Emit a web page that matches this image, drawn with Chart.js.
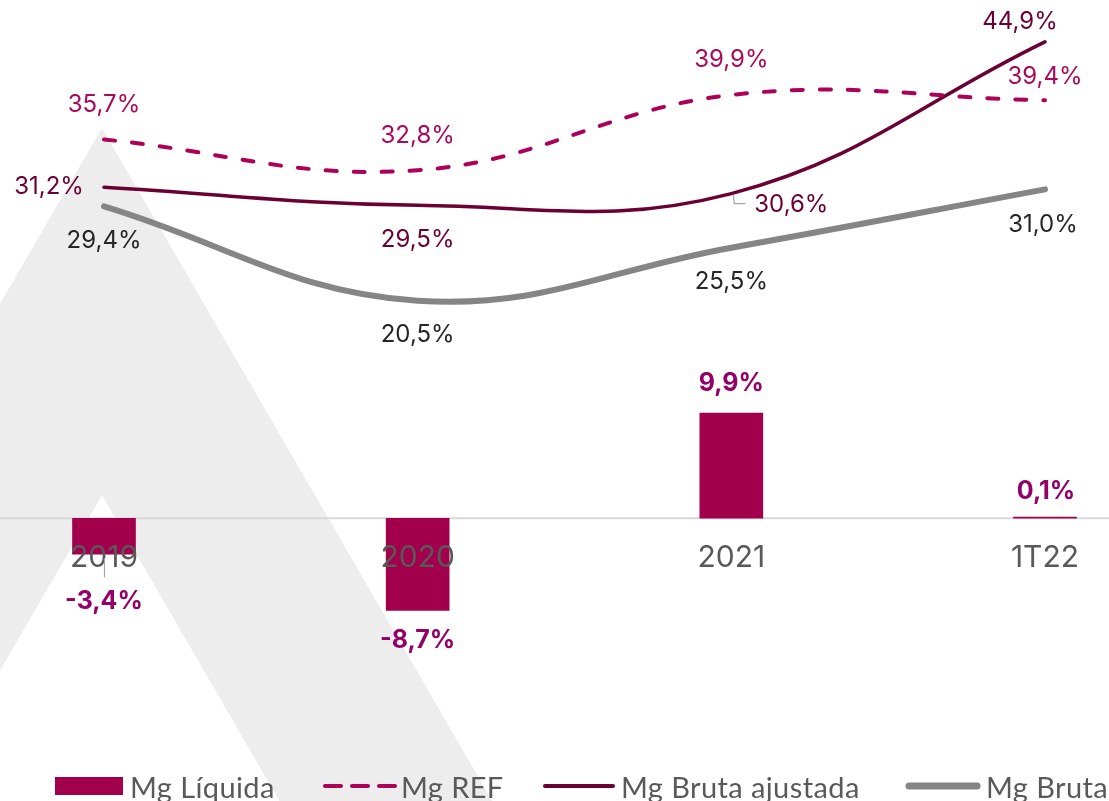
<!DOCTYPE html>
<html>
<head>
<meta charset="utf-8">
<script src="https://cdn.jsdelivr.net/npm/chart.js@4/dist/chart.umd.min.js"></script>
<style>
  html, body { margin: 0; padding: 0; background: #ffffff; }
  #wrap { position: relative; width: 1109px; height: 801px; overflow: hidden; }
  #chart { position: absolute; left: 0; top: 0; }
  #legend { position: absolute; left: 0; top: 768px; width: 1109px; height: 36px;
            font-family: Lato, sans-serif; font-size: 29px; letter-spacing: 0.4px; color: #595959; white-space: nowrap; }
  .item { position: absolute; top: 0; height: 36px; display: flex; align-items: center; }
  .item svg { display: block; }
</style>
</head>
<body>
<div id="wrap">
  <canvas id="chart" width="1109" height="801"></canvas>
  <div id="legend"></div>
</div>
<script>
// ---- data ----
const categories = ['2019', '2020', '2021', '1T22'];
const seriesNames = ['Mg Líquida', 'Mg REF', 'Mg Bruta ajustada', 'Mg Bruta'];
const mgLiquida = [-3.4, -8.7, 9.9, 0.1];
const mgRef = [35.7, 32.8, 39.9, 39.4];
const mgBrutaAjustada = [31.2, 29.5, 30.6, 44.9];
const mgBruta = [29.4, 20.5, 25.5, 31.0];

// ---- styling ----
const C_BAR = '#A2004C';
const C_REF = '#AD0058';
const C_ADJ = '#6B0034';
const C_BRUTA = '#858585';
const FONT = 'Inter, sans-serif';

// label offsets relative to each mark's value point (bar end / line point)
const labelStyle = [
  { color: '#930068', weight: 'bold', size: 25, offsets: [[0, 47], [0, 30], [0, -30], [1, -26]] },
  { color: '#AA0A5A', weight: 'normal', size: 24, offsets: [[0, -35], [0, -34], [0, -35], [0, -23]] },
  { color: '#6B0034', weight: 'normal', size: 24, offsets: [[-55, 0], [0, 35], [60, 11], [-25, -20]] },
  { color: '#262626', weight: 'normal', size: 24, offsets: [[0, 34], [0, 34], [0, 34], [-2, 35]] }
];

function fmt(v) {
  return v.toFixed(1).replace('.', ',') + '%';
}

const watermark = {
  id: 'watermark',
  beforeDraw(chart) {
    const ctx = chart.ctx;
    const x0 = chart.scales.x.getPixelForValue(0) - 2;
    const s = 0.58;
    const H = chart.height;
    ctx.save();
    ctx.fillStyle = '#ffffff';
    ctx.fillRect(0, 0, chart.width, H);
    ctx.fillStyle = '#ededed';
    ctx.beginPath();
    ctx.moveTo(x0, 128);
    ctx.lineTo(x0 - s * (H - 128), H);
    ctx.lineTo(x0 + s * (H - 128), H);
    ctx.closePath();
    ctx.fill();
    ctx.fillStyle = '#ffffff';
    ctx.beginPath();
    ctx.moveTo(x0, 495);
    ctx.lineTo(x0 - s * (H - 495), H);
    ctx.lineTo(x0 + s * (H - 495), H);
    ctx.closePath();
    ctx.fill();
    // zero line across the whole width
    const y0 = chart.scales.y.getPixelForValue(0);
    ctx.strokeStyle = '#d9d9d9';
    ctx.lineWidth = 2;
    ctx.beginPath();
    ctx.moveTo(0, y0);
    ctx.lineTo(chart.width, y0);
    ctx.stroke();
    ctx.restore();
  }
};

const valueLabels = {
  id: 'valueLabels',
  afterDraw(chart) {
    const ctx = chart.ctx;
    ctx.save();
    ctx.textAlign = 'center';
    ctx.textBaseline = 'middle';
    chart.data.datasets.forEach((ds, di) => {
      const meta = chart.getDatasetMeta(di);
      const st = labelStyle[di];
      meta.data.forEach((el, i) => {
        const [dx, dy] = st.offsets[i];
        ctx.font = st.weight + ' ' + st.size + 'px ' + FONT;
        ctx.fillStyle = st.color;
        ctx.fillText(fmt(ds.data[i]), el.x + dx, el.y + dy);
      });
    });
    // leader lines
    ctx.strokeStyle = '#a6a6a6';
    ctx.lineWidth = 1.2;
    const adj = chart.getDatasetMeta(2).data[2];
    ctx.beginPath();
    ctx.moveTo(adj.x + 2, adj.y + 1);
    ctx.lineTo(adj.x + 3, adj.y + 10);
    ctx.lineTo(adj.x + 14, adj.y + 10);
    ctx.stroke();
    const b0 = chart.getDatasetMeta(0).data[0];
    ctx.beginPath();
    ctx.moveTo(b0.x + 0.5, b0.y + 4);
    ctx.lineTo(b0.x + 0.5, b0.y + 23);
    ctx.stroke();
    ctx.restore();
  }
};

const chart = new Chart(document.getElementById('chart'), {
  data: {
    labels: categories,
    datasets: [
      { type: 'bar', label: seriesNames[0], data: mgLiquida, backgroundColor: C_BAR, barThickness: 63, clip: false },
      { type: 'line', label: seriesNames[1], data: mgRef, borderColor: C_REF, borderWidth: 4,
        borderDash: [11, 17], borderCapStyle: 'round', tension: 0.4, pointRadius: 0, fill: false, clip: false },
      { type: 'line', label: seriesNames[2], data: mgBrutaAjustada, borderColor: C_ADJ, borderWidth: 3.5,
        borderCapStyle: 'round', tension: 0.4, pointRadius: 0, fill: false, clip: false },
      { type: 'line', label: seriesNames[3], data: mgBruta, borderColor: C_BRUTA, borderWidth: 6,
        borderCapStyle: 'round', tension: 0.4, pointRadius: 0, fill: false, clip: false }
    ]
  },
  options: {
    responsive: false,
    animation: false,
    events: [],
    layout: { padding: { left: 104, right: 64, top: 9, bottom: 60 } },
    plugins: { legend: { display: false }, tooltip: { enabled: false } },
    scales: {
      x: {
        type: 'category', offset: false, position: { y: 0 },
        grid: { display: false, drawTicks: false }, border: { display: false },
        ticks: { z: 1, color: '#595959', font: { family: FONT, size: 30 }, padding: 22, maxRotation: 0, autoSkip: false }
      },
      y: { display: false, min: -21, max: 48 }
    }
  },
  plugins: [watermark, valueLabels]
});

// ---- HTML legend built from the datasets ----
const legendEl = document.getElementById('legend');
const legendLeft = [55, 323, 543, 905];
const legendTextGap = [7, 4, 6, 5];
const markers = [
  '<svg width="68" height="20"><rect x="0" y="1" width="68" height="18" fill="' + C_BAR + '"/></svg>',
  '<svg width="74" height="10"><line x1="2" y1="5" x2="72" y2="5" stroke="' + C_REF + '" stroke-width="4" stroke-linecap="round" stroke-dasharray="16 11"/></svg>',
  '<svg width="72" height="10"><line x1="2" y1="5" x2="70" y2="5" stroke="' + C_ADJ + '" stroke-width="4" stroke-linecap="round"/></svg>',
  '<svg width="76" height="10"><line x1="4" y1="5" x2="72" y2="5" stroke="' + C_BRUTA + '" stroke-width="7" stroke-linecap="round"/></svg>'
];
chart.data.datasets.forEach((ds, i) => {
  const item = document.createElement('div');
  item.className = 'item';
  item.style.left = legendLeft[i] + 'px';
  item.innerHTML = markers[i] + '<span style="margin-left:' + legendTextGap[i] + 'px">' + ds.label + '</span>';
  legendEl.appendChild(item);
});
</script>
</body>
</html>
